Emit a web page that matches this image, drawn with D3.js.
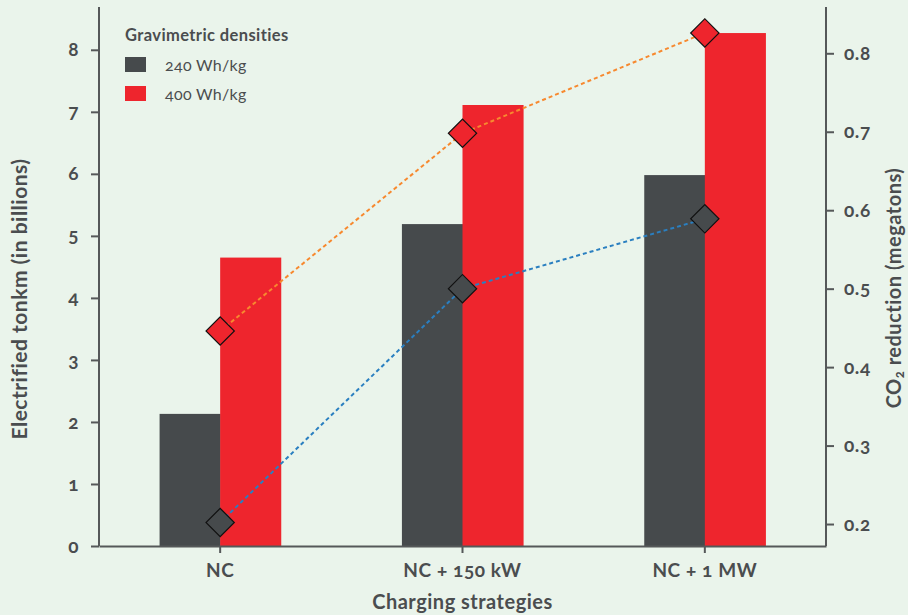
<!DOCTYPE html>
<html>
<head>
<meta charset="utf-8">
<script src="https://cdn.jsdelivr.net/npm/d3@7"></script>
<style>
  body { margin: 0; background: #eaf4eb; }
  svg { display: block; font-family: Lato, "Open Sans", sans-serif; font-variant-numeric: oldstyle-nums; font-feature-settings: "onum" 1; }
  svg text { font-family: Lato, "Open Sans", sans-serif; }
  .axis text { fill: #4a4d4f; font-size: 19px; font-weight: bold; letter-spacing: 0.6px; }
  .axis path, .axis line { stroke: #555859; stroke-width: 2px; }
  .title { fill: #4a4d4f; font-size: 20px; font-weight: bold; letter-spacing: 0.5px; }
</style>
</head>
<body>
<div id="chart"></div>
<script>
// data
var categories = ["NC", "NC + 150 kW", "NC + 1 MW"];
var seriesNames = ["240 Wh/kg", "400 Wh/kg"];
var tonkm240 = [2.13, 5.19, 5.98];
var tonkm400 = [4.65, 7.11, 8.27];
var co2_240 = [0.202, 0.500, 0.589];
var co2_400 = [0.446, 0.698, 0.826];
var leftTicks = [0, 1, 2, 3, 4, 5, 6, 7, 8];
var rightTicks = [0.2, 0.3, 0.4, 0.5, 0.6, 0.7, 0.8];

var barColors = ["#464a4c", "#ee252d"];
var lineColors = ["#2a7fc0", "#f7892f"];

var W = 908, H = 615;
var margin = { top: 7, right: 82, bottom: 69, left: 99 };

var svg = d3.select("#chart")
    .append("svg")
    .attr("width", W)
    .attr("height", H);

var x0 = d3.scaleBand()
    .domain(categories)
    .range([margin.left, W - margin.right])
    .padding(0);

var yL = d3.scaleLinear().domain([0, 8.69]).range([H - margin.bottom, margin.top]);
var yR = d3.scaleLinear().domain([0.172, 0.859]).range([H - margin.bottom, margin.top]);

var bw = x0.bandwidth() / 4;  // each bar is a quarter of the band
var bars = [tonkm240, tonkm400];

// bars
bars.forEach(function (vals, s) {
  svg.append("g").selectAll("rect")
    .data(vals)
    .enter()
    .append("rect")
    .attr("x", function (d, i) { return x0(categories[i]) + x0.bandwidth() / 2 + (s - 1) * bw; })
    .attr("width", bw + 0.5)
    .attr("y", function (d) { return yL(d); })
    .attr("height", function (d) { return yL(0) - yL(d); })
    .style("fill", barColors[s]);
});

// axes
svg.append("g")
    .attr("class", "axis")
    .attr("transform", "translate(" + margin.left + ",0)")
    .call(d3.axisLeft(yL).tickValues(leftTicks).tickSize(8).tickPadding(12).tickSizeOuter(0))
    .call(function (g) { g.select(".domain").attr("d", "M0," + margin.top + "V" + (H - margin.bottom)); });

svg.append("g")
    .attr("class", "axis")
    .attr("transform", "translate(" + (W - margin.right) + ",0)")
    .call(d3.axisRight(yR).tickValues(rightTicks).tickFormat(d3.format(".1f")).tickSize(8).tickPadding(10).tickSizeOuter(0))
    .call(function (g) { g.select(".domain").attr("d", "M0," + margin.top + "V" + (H - margin.bottom)); });

svg.append("g")
    .attr("class", "axis")
    .attr("transform", "translate(0," + (H - margin.bottom) + ")")
    .call(d3.axisBottom(x0).tickSize(7).tickPadding(11).tickSizeOuter(0));

svg.selectAll(".axis").attr("font-family", null).attr("font-size", null);

// dashed lines with diamonds
var co2 = [co2_240, co2_400];
var line = d3.line()
    .x(function (d, i) { return x0(categories[i]) + x0.bandwidth() / 2; })
    .y(function (d) { return yR(d); });

co2.forEach(function (vals, s) {
  svg.append("path")
    .datum(vals)
    .attr("d", line)
    .style("fill", "none")
    .style("stroke", lineColors[s])
    .style("stroke-width", 2)
    .style("stroke-dasharray", "4,3");
});

var diamond = d3.symbol().type(d3.symbolSquare).size(400);
co2.forEach(function (vals, s) {
  svg.append("g").selectAll("path")
    .data(vals)
    .enter()
    .append("path")
    .attr("d", diamond)
    .attr("transform", function (d, i) {
      return "translate(" + (x0(categories[i]) + x0.bandwidth() / 2) + "," + yR(d) + ") rotate(45)";
    })
    .style("fill", barColors[s])
    .style("stroke", "#111")
    .style("stroke-width", 1.2);
});

// axis titles
svg.append("text")
    .attr("class", "title")
    .attr("transform", "translate(27,299) rotate(-90)")
    .attr("text-anchor", "middle")
    .style("font-size", "21px")
    .text("Electrified tonkm (in billions)");

var rt = svg.append("text")
    .attr("class", "title")
    .attr("transform", "translate(901,288) rotate(-90)")
    .attr("text-anchor", "middle");
rt.append("tspan").text("CO");
rt.append("tspan").attr("dy", 3).style("font-size", "13px").text("2");
rt.append("tspan").attr("dy", -3).text(" reduction (megatons)");

svg.append("text")
    .attr("class", "title")
    .attr("x", x0.range()[0] + (x0.range()[1] - x0.range()[0]) / 2)
    .attr("y", 609)
    .attr("text-anchor", "middle")
    .text("Charging strategies");

// legend
var legend = svg.append("g").attr("transform", "translate(125,0)");
legend.append("text")
    .attr("x", 0).attr("y", 41)
    .style("fill", "#4a4d4f").style("font-size", "16.5px").style("font-weight", "bold").style("letter-spacing", "0.4px")
    .text("Gravimetric densities");
seriesNames.forEach(function (name, s) {
  legend.append("rect")
    .attr("x", 0).attr("y", 57 + s * 29)
    .attr("width", 21).attr("height", 15)
    .style("fill", barColors[s]);
  legend.append("text")
    .attr("x", 40).attr("y", 71 + s * 29)
    .style("fill", "#4a4d4f").style("font-size", "16px").style("letter-spacing", "0.3px")
    .text(name);
});
</script>
</body>
</html>
